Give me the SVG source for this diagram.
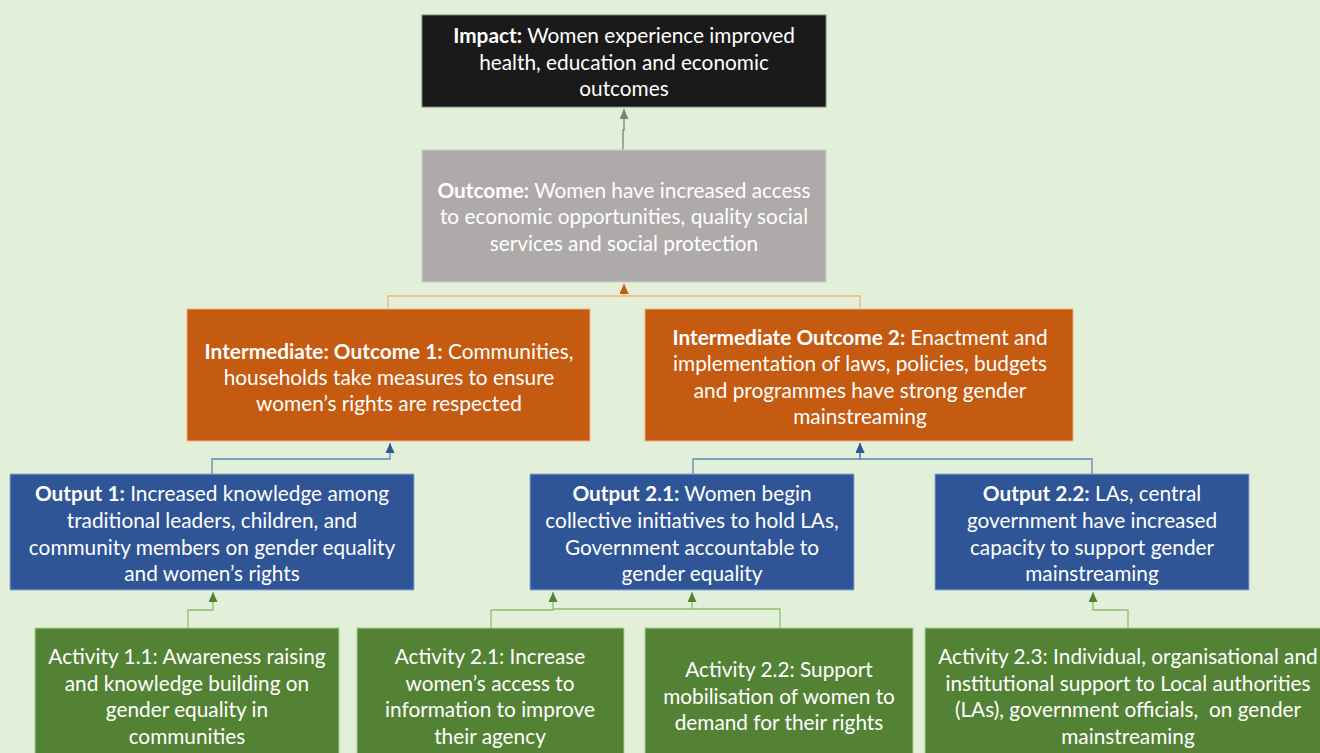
<svg xmlns="http://www.w3.org/2000/svg" width="1320" height="753" viewBox="0 0 1320 753">
<style>
text{font-family:Lato,"Open Sans","Liberation Sans",sans-serif;font-size:20.8px;fill:#ffffff;text-anchor:middle}
.b{font-weight:bold}
.imp{fill:#1a1a1a;stroke:#7f7f7f;stroke-width:1}
.out{fill:#aeaaaa;stroke:#d0cece;stroke-width:1}
.io{fill:#c55a11;stroke:#f4b183;stroke-width:1}
.op{fill:#2f5597;stroke:#8faadc;stroke-width:1}
.ac{fill:#548235;stroke:#a9d18e;stroke-width:1}
.c{fill:none;stroke-width:1.3}
</style>
<defs>
<marker id="ag" markerWidth="9" markerHeight="10" refX="4.5" refY="0" markerUnits="userSpaceOnUse" viewBox="0 0 9 10"><path d="M0,10 L4.5,0 L9,10 Z" fill="#7f7f7f"/></marker>
<marker id="ao" markerWidth="9" markerHeight="10" refX="4.5" refY="0" markerUnits="userSpaceOnUse" viewBox="0 0 9 10"><path d="M0,10 L4.5,0 L9,10 Z" fill="#c55a11"/></marker>
<marker id="ab" markerWidth="9" markerHeight="10" refX="4.5" refY="0" markerUnits="userSpaceOnUse" viewBox="0 0 9 10"><path d="M0,10 L4.5,0 L9,10 Z" fill="#2f5597"/></marker>
<marker id="an" markerWidth="9" markerHeight="10" refX="4.5" refY="0" markerUnits="userSpaceOnUse" viewBox="0 0 9 10"><path d="M0,10 L4.5,0 L9,10 Z" fill="#548235"/></marker>
</defs>
<rect x="0" y="0" width="1320" height="753" fill="#e2efd9"/>

<g id="connectors">
<path class="c" d="M623,150 V130 H624 V109" stroke="#7f7f7f" marker-end="url(#ag)"/>
<path class="c" d="M388,309 V296 H624 V284" stroke="#f4b183" marker-end="url(#ao)"/>
<path class="c" d="M860,309 V296 H624 V284" stroke="#f4b183" marker-end="url(#ao)"/>
<path class="c" d="M212,474 V459 H390 V443" stroke="#5b86b5" marker-end="url(#ab)"/>
<path class="c" d="M693,474 V459 H860 V443" stroke="#5b86b5" marker-end="url(#ab)"/>
<path class="c" d="M1092,474 V459 H860 V443" stroke="#5b86b5" marker-end="url(#ab)"/>
<path class="c" d="M188,628 V610 H213 V592" stroke="#8fbf72" marker-end="url(#an)"/>
<path class="c" d="M491,628 V610 H553 V592" stroke="#8fbf72" marker-end="url(#an)"/>
<path class="c" d="M780,628 V609 H553 M692,609 V592" stroke="#8fbf72" marker-end="url(#an)"/>
<path class="c" d="M1128,628 V610 H1093 V592" stroke="#8fbf72" marker-end="url(#an)"/>
</g>

<g id="impact">
<rect class="imp" x="422" y="15" width="404" height="92"/>
<text x="624" y="43"><tspan class="b">Impact:</tspan> Women experience improved</text>
<text x="624" y="70">health, education and economic</text>
<text x="624" y="96">outcomes</text>
</g>

<g id="outcome">
<rect class="out" x="422" y="150" width="404" height="132"/>
<text x="624" y="198"><tspan class="b">Outcome:</tspan> Women have increased access</text>
<text x="624" y="224">to economic opportunities, quality social</text>
<text x="624" y="251">services and social protection</text>
</g>

<g id="io1">
<rect class="io" x="187" y="309" width="403" height="132"/>
<text x="389" y="359"><tspan class="b">Intermediate: Outcome 1:</tspan> Communities,</text>
<text x="389" y="385">households take measures to ensure</text>
<text x="389" y="411">women’s rights are respected</text>
</g>

<g id="io2">
<rect class="io" x="645" y="309" width="428" height="132"/>
<text x="860" y="345"><tspan class="b">Intermediate Outcome 2:</tspan> Enactment and</text>
<text x="860" y="371">implementation of laws, policies, budgets</text>
<text x="860" y="398">and programmes have strong gender</text>
<text x="860" y="424">mainstreaming</text>
</g>

<g id="output1">
<rect class="op" x="10" y="474" width="404" height="116"/>
<text x="212" y="501"><tspan class="b">Output 1:</tspan> Increased knowledge among</text>
<text x="212" y="528">traditional leaders, children, and</text>
<text x="212" y="555">community members on gender equality</text>
<text x="212" y="581">and women’s rights</text>
</g>

<g id="output21">
<rect class="op" x="530" y="474" width="324" height="116"/>
<text x="692" y="501"><tspan class="b">Output 2.1:</tspan> Women begin</text>
<text x="692" y="528">collective initiatives to hold LAs,</text>
<text x="692" y="555">Government accountable to</text>
<text x="692" y="581">gender equality</text>
</g>

<g id="output22">
<rect class="op" x="935" y="474" width="314" height="116"/>
<text x="1092" y="501"><tspan class="b">Output 2.2:</tspan> LAs, central</text>
<text x="1092" y="528">government have increased</text>
<text x="1092" y="555">capacity to support gender</text>
<text x="1092" y="581">mainstreaming</text>
</g>

<g id="activity11">
<rect class="ac" x="35" y="628" width="304" height="140"/>
<text x="187" y="664">Activity 1.1: Awareness raising</text>
<text x="187" y="691">and knowledge building on</text>
<text x="187" y="717">gender equality in</text>
<text x="187" y="744">communities</text>
</g>

<g id="activity21">
<rect class="ac" x="357" y="628" width="267" height="140"/>
<text x="490" y="664">Activity 2.1: Increase</text>
<text x="490" y="691">women’s access to</text>
<text x="490" y="717">information to improve</text>
<text x="490" y="744">their agency</text>
</g>

<g id="activity22">
<rect class="ac" x="645" y="628" width="268" height="140"/>
<text x="779" y="677">Activity 2.2: Support</text>
<text x="779" y="704">mobilisation of women to</text>
<text x="779" y="730">demand for their rights</text>
</g>

<g id="activity23">
<rect class="ac" x="925" y="628" width="410" height="140"/>
<text x="1128" y="664">Activity 2.3: Individual, organisational and</text>
<text x="1128" y="691">institutional support to Local authorities</text>
<text x="1128" y="717" xml:space="preserve">(LAs), government officials,  on gender</text>
<text x="1128" y="744">mainstreaming</text>
</g>
</svg>
